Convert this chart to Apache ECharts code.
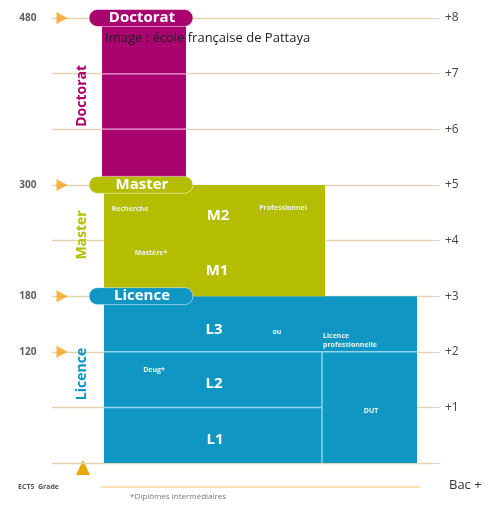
<!DOCTYPE html>
<html>
<head>
<meta charset="utf-8">
<script src="https://cdn.jsdelivr.net/npm/echarts@6/dist/echarts.min.js"></script>
<style>
html, body { margin: 0; background: #fff; }
#chart { width: 489px; height: 507px; }
</style>
</head>
<body>
<div id="chart"></div>
<script>
// cycles of the LMD system
const cycles = ["Licence", "Master", "Doctorat"];
const cycleColors = ["#0f96c2", "#b4bd00", "#a8036f"];
const dividerColors = ["#8fd3ec", "#b4bd00", "#d77bb8"];
const cycleStart = [0, 3, 5];
const cycleEnd = [3, 5, 8];
// ECTS credits at given Bac+ levels
const ectsCredits = [120, 180, 300, 480];
const ectsLevels = [2, 3, 5, 8];
// cells: from level, to level, cycle, column
const cellFrom = [0, 1, 2, 0, 3, 4, 5, 6, 7];
const cellTo = [1, 2, 3, 2, 4, 5, 6, 7, 8];
const cellCycle = [0, 0, 0, 0, 1, 1, 2, 2, 2];
const cellColumn = ["left", "left", "full", "dut", "master", "master", "doc", "doc", "doc"];
// labels inside the cells
const labelTexts = ["L1", "L2", "L3", "ou", "Licence\nprofessionnelle", "Deug*", "DUT",
  "M1", "M2", "Mastère*", "Recherche", "Professionnel"];
const labelLevels = [0.41, 1.42, 2.39, 2.35, 2.2, 1.67, 0.93, 3.46, 4.45, 3.77, 4.57, 4.59];
const labelBig = [true, true, true, false, false, false, false, true, true, false, false, false];

// layout (pixels along the hidden x axis)
const columns = {
  left: [104, 322], full: [104, 417], dut: [322, 417],
  master: [104, 325], doc: [102, 186]
};
const labelX = [215, 214, 214, 277, 323, 154, 371, 217, 218, 151, 130, 283];
const FONT = "'Open Sans', sans-serif";

const chart = echarts.init(document.querySelector("#chart"));

const cellData = cellFrom.map((f, i) => {
  const [x0, x1] = columns[cellColumn[i]];
  return [x0, x1, f, cellTo[i], cellCycle[i], i];
});

chart.setOption({
  animation: false,
  grid: { left: 52, right: 56, top: 18, bottom: 44 },
  xAxis: { type: "value", min: 52, max: 433, show: false },
  yAxis: {
    type: "value", min: 0, max: 8, interval: 1, position: "right",
    axisLine: { show: false },
    axisTick: { show: true, length: 7, lineStyle: { color: "#e6d8b8" } },
    axisLabel: {
      margin: 12, color: "#444", fontSize: 12, fontFamily: FONT,
      formatter: v => v === 0 ? "" : "+" + v
    },
    splitLine: { show: true, lineStyle: { color: "#e3d5b2", width: 1.3 } }
  },
  graphic: [
    { type: "line", shape: { x1: 51, y1: 4, x2: 51, y2: 480 }, style: { stroke: "#f8dcae", lineWidth: 1.5 } },
    { type: "line", shape: { x1: 433, y1: 0, x2: 433, y2: 463 }, style: { stroke: "#f3c6a0", lineWidth: 1.5 } },
    { type: "line", shape: { x1: 100, y1: 487, x2: 420, y2: 487 }, style: { stroke: "#fbe2b4", lineWidth: 2 } },
    { type: "polygon", shape: { points: [[76, 475], [90, 475], [83, 460]] }, style: { fill: "#e9a90a" } },
    { type: "text", x: 18, y: 487, style: { text: "ECTS  Grade", fill: "#555", font: "bold 7px " + FONT, verticalAlign: "middle" } },
    { type: "text", x: 449, y: 485, style: { text: "Bac +", fill: "#333", font: "13px " + FONT, verticalAlign: "middle" } },
    { type: "text", x: 130, y: 497, style: { text: "*Diplômes intermédiaires", fill: "#777", font: "8px " + FONT, verticalAlign: "middle" } },
    { type: "text", x: 105, y: 38, z: 100, style: { text: "Image : école française de Pattaya", fill: "#222", font: "13px " + FONT, verticalAlign: "middle" } }
  ],
  series: [
    {
      // cells: filled rects
      type: "custom",
      data: cellData,
      encode: { x: [0, 1], y: [2, 3] },
      z: 2,
      renderItem(params, api) {
        const c = api.value(4);
        const p0 = api.coord([api.value(0), api.value(3)]);
        const p1 = api.coord([api.value(1), api.value(2)]);
        return {
          type: "rect",
          shape: { x: p0[0], y: p0[1], width: p1[0] - p0[0], height: p1[1] - p0[1] },
          style: { fill: cycleColors[c] }
        };
      }
    },
    {
      // light lines on inner cell edges: top edge (below cycle end), left edge for DUT
      type: "custom",
      data: cellData,
      encode: { x: [0, 1], y: [2, 3] },
      z: 3,
      renderItem(params, api) {
        const c = api.value(4);
        const i = api.value(5);
        const p0 = api.coord([api.value(0), api.value(3)]);
        const p1 = api.coord([api.value(1), api.value(2)]);
        const children = [];
        if (api.value(3) < cycleEnd[c]) {
          children.push({
            type: "line",
            shape: { x1: p0[0], y1: p0[1], x2: p1[0], y2: p0[1] },
            style: { stroke: dividerColors[c], lineWidth: 1.5 }
          });
        }
        if (cellColumn[i] === "dut") {
          children.push({
            type: "line",
            shape: { x1: p0[0], y1: p0[1], x2: p0[0], y2: p1[1] },
            style: { stroke: dividerColors[c], lineWidth: 1.5 }
          });
        }
        return { type: "group", children };
      }
    },
    {
      type: "custom",
      data: labelTexts.map((t, i) => [labelX[i], labelLevels[i], i]),
      z: 4,
      renderItem(params, api) {
        const i = api.value(2);
        const p = api.coord([api.value(0), api.value(1)]);
        const big = labelBig[i];
        return {
          type: "text", x: p[0], y: p[1],
          style: {
            text: labelTexts[i], fill: big ? "#fff" : "#eef3e8",
            font: (big ? "bold 15px " : "bold 7px ") + FONT,
            align: labelTexts[i].includes("\n") ? "left" : "center",
            verticalAlign: "middle", lineHeight: 9
          }
        };
      }
    },
    {
      // badges on the level lines and vertical cycle names
      type: "custom",
      data: cycles.map((c, i) => [82, cycleEnd[i], cycleStart[i], i]),
      z: 5,
      renderItem(params, api) {
        const i = api.value(3);
        const top = api.coord([90, api.value(1)]);
        const mid = api.coord([82, (api.value(1) + api.value(2)) / 2 + 0.1]);
        return {
          type: "group",
          children: [
            {
              type: "rect",
              shape: { x: 89, y: top[1] - 8.5, width: 104, height: 17, r: 8.5 },
              style: { fill: cycleColors[i], stroke: "rgba(255,255,255,0.5)", lineWidth: 1 }
            },
            {
              type: "text", x: 142, y: top[1],
              style: { text: cycles[i], fill: "#fff", font: "bold 15px " + FONT, align: "center", verticalAlign: "middle" }
            },
            {
              type: "text", x: mid[0], y: mid[1], rotation: Math.PI / 2,
              style: { text: cycles[i], fill: cycleColors[i], font: "bold 14px " + FONT, align: "center", verticalAlign: "middle" }
            }
          ]
        };
      }
    },
    {
      type: "scatter",
      data: ectsLevels.map((l, i) => [62, l, ectsCredits[i]]),
      symbol: "triangle",
      symbolRotate: -90,
      symbolSize: [12, 11],
      itemStyle: { color: "#f2a21c" },
      label: {
        show: true, position: "left", distance: 20,
        formatter: p => p.value[2],
        color: "#333", fontSize: 10, fontWeight: "bold", fontFamily: FONT
      }
    }
  ]
});

// inner Doctorat year lines, placed through the axis scale after layout
const docLines = [];
for (let lvl = cycleStart[2] + 1; lvl < cycleEnd[2]; lvl++) {
  const a = chart.convertToPixel({ gridIndex: 0 }, [columns.doc[0], lvl]);
  const b = chart.convertToPixel({ gridIndex: 0 }, [columns.doc[1], lvl]);
  docLines.push({
    type: "line", z: 50,
    shape: { x1: a[0], y1: a[1], x2: b[0], y2: b[1] },
    style: { stroke: dividerColors[2], lineWidth: 1.5 }
  });
}
const graphics = chart.getOption().graphic[0].elements.map(e => ({ id: e.id }));
chart.setOption({ graphic: docLines });
</script>
</body>
</html>
